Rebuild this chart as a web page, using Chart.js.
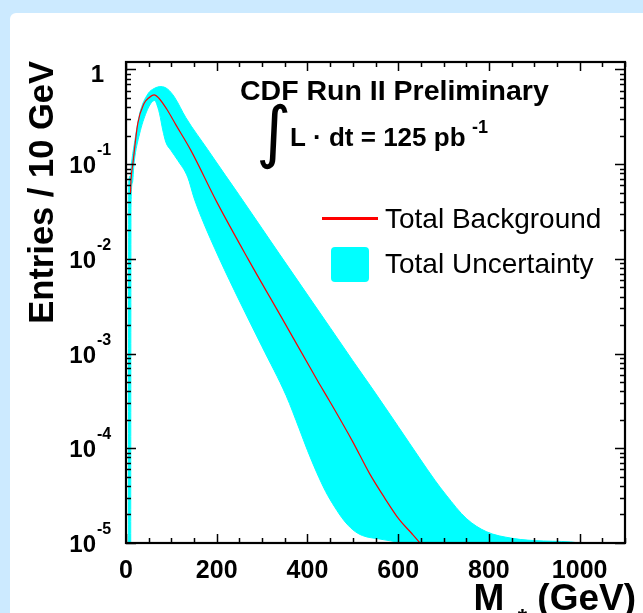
<!DOCTYPE html>
<html>
<head>
<meta charset="utf-8">
<title>Total background</title>
<script src="https://cdn.jsdelivr.net/npm/chart.js@4.4.1/dist/chart.umd.min.js"></script>
<style>
  html, body { margin: 0; padding: 0; }
  body { width: 643px; height: 613px; background: #cceaff; position: relative; overflow: hidden; }
  .panel { position: absolute; left: 10px; top: 13px; width: 700px; height: 700px; background: #fff; border-radius: 6px; }
  canvas { position: absolute; left: 0; top: 0; }
</style>
</head>
<body>
<div class="panel"></div>
<canvas id="bgChart" width="643" height="613"></canvas>
<script>
// Total background prediction (entries / 10 GeV) vs M_e*
const bgMass    = [10, 11, 15, 26, 40, 50, 62, 72, 90, 110, 143, 200, 268, 350, 422, 448, 500, 537, 570, 603, 630, 648, 680];
const bgEntries = [0.050, 0.068, 0.10, 0.27, 0.44, 0.50, 0.54, 0.50, 0.38, 0.26, 0.14, 0.040, 0.0102, 0.0021,
                   5.2e-4, 3.2e-4, 1.17e-4, 5.4e-5, 3.0e-5, 1.75e-5, 1.26e-5, 1.0e-5, 6.3e-6];

// upper edge of the total uncertainty band
const upMass    = [5, 6, 10, 12, 18, 30, 48, 62, 77, 92, 107, 132, 180, 220, 250, 300, 338, 408, 450, 500,
                   544, 600, 647, 681, 706, 750, 794, 852, 920, 1000, 1040, 1100];
const upEntries = [1e-7, 0.063, 0.076, 0.10, 0.16, 0.34, 0.55, 0.63, 0.66, 0.62, 0.51, 0.31, 0.143, 0.0753,
                   0.0468, 0.0209, 0.0113, 0.00368, 0.00188, 8.4e-4, 4.2e-4, 1.7e-4, 7.9e-5, 4.6e-5, 3.2e-5,
                   1.82e-5, 1.32e-5, 1.12e-5, 1.05e-5, 1.0e-5, 8e-6, 6e-6];

// lower edge of the total uncertainty band
const lowMass    = [5, 10, 11, 14, 18, 30, 45, 55, 63, 70, 74, 81, 88, 99, 114, 136, 150, 166, 206, 250, 300,
                    353, 382, 400, 420, 440, 460, 480, 500, 521, 560, 600, 650, 700, 800, 1100];
const lowEntries = [1e-7, 1e-7, 0.035, 0.063, 0.105, 0.21, 0.355, 0.44, 0.47, 0.40, 0.34, 0.23, 0.17, 0.14,
                    0.11, 0.073, 0.044, 0.0275, 0.010, 0.0036, 0.00118, 3.6e-4, 1.6e-4, 9.5e-5, 5.6e-5,
                    3.5e-5, 2.4e-5, 1.74e-5, 1.38e-5, 1.2e-5, 1.1e-5, 1.02e-5, 9.3e-6, 8e-6, 6e-6, 5e-6];

const xTickLabels = [0, 200, 400, 600, 800, 1000];
const yDecades = [0, -1, -2, -3, -4, -5];

const toPoints = (xs, ys) => xs.map((v, i) => ({ x: v, y: ys[i] }));

const BOLD = '"Liberation Sans", Arial, Helvetica, sans-serif';

// ROOT-like frame: inward ticks, superscript labels, titles, text and legend
const rootFrame = {
  id: 'rootFrame',
  afterDraw(chart) {
    const { ctx, chartArea: a, scales: { x, y } } = chart;
    ctx.save();

    ctx.strokeStyle = '#000';
    ctx.lineWidth = 2.2;
    ctx.strokeRect(a.left, a.top, a.right - a.left, a.bottom - a.top);

    ctx.lineWidth = 1.5;
    ctx.beginPath();
    for (let v = 0; v <= x.max; v += 50) {
      const px = Math.round(x.getPixelForValue(v)) + 0.5;
      const len = v % 200 === 0 ? 9 : 5;
      ctx.moveTo(px, a.bottom); ctx.lineTo(px, a.bottom - len);
      ctx.moveTo(px, a.top); ctx.lineTo(px, a.top + len);
    }
    yDecades.forEach(e => {
      for (let m = 1; m <= 9; m++) {
        const v = m * Math.pow(10, e);
        if (v > y.max) break;
        const py = Math.round(y.getPixelForValue(v)) + 0.5;
        const len = m === 1 ? 10 : 5;
        ctx.moveTo(a.left, py); ctx.lineTo(a.left + len, py);
        ctx.moveTo(a.right, py); ctx.lineTo(a.right - len, py);
      }
    });
    ctx.stroke();

    ctx.fillStyle = '#000';
    // x tick labels
    ctx.font = 'bold 25px ' + BOLD;
    ctx.textAlign = 'center';
    ctx.textBaseline = 'alphabetic';
    xTickLabels.forEach(v => ctx.fillText(String(v), x.getPixelForValue(v), 578));

    // y tick labels, 10 with a superscript exponent
    yDecades.forEach(e => {
      const py = y.getPixelForValue(Math.pow(10, e));
      ctx.textAlign = 'right';
      ctx.font = 'bold 24px ' + BOLD;
      if (e === 0) {
        ctx.fillText('1', 104, py + 13);
        return;
      }
      ctx.fillText('10', 96, py + 9);
      ctx.textAlign = 'left';
      ctx.font = 'bold 16px ' + BOLD;
      ctx.fillText(String(e), 97, py - 9);
    });

    // y title
    ctx.save();
    ctx.translate(53, a.top - 1);
    ctx.rotate(-Math.PI / 2);
    ctx.textAlign = 'right';
    ctx.font = 'bold 34.5px ' + BOLD;
    ctx.fillText('Entries / 10 GeV', 0, 0);
    ctx.restore();

    // x title: M with subscript e*, then (GeV)
    ctx.textAlign = 'left';
    ctx.font = 'bold 37px ' + BOLD;
    const unit = ' (GeV)';
    const wUnit = ctx.measureText(unit).width;
    const wM = ctx.measureText('M').width;
    ctx.font = 'bold 24px ' + BOLD;
    const wSub = ctx.measureText('e*').width;
    const xEnd = 636;
    const xM = xEnd - wUnit - wSub - wM;
    ctx.fillText('e*', xM + wM, 626);
    ctx.font = 'bold 37px ' + BOLD;
    ctx.fillText('M', xM, 610);
    ctx.fillText(unit, xM + wM + wSub, 610);

    // header text
    ctx.font = 'bold 28.5px ' + BOLD;
    ctx.fillText('CDF Run II Preliminary', 240, 100);
    ctx.font = '68px "DejaVu Sans", sans-serif';
    ctx.fillText('\u222B', 256, 155);
    ctx.font = 'bold 26px ' + BOLD;
    ctx.fillText('L \u00B7 dt = 125 pb', 290, 146);
    ctx.font = 'bold 18px ' + BOLD;
    ctx.fillText('-1', 472, 133);

    // legend
    const bg = chart.data.datasets[0];
    const band = chart.data.datasets[1];
    ctx.strokeStyle = bg.borderColor;
    ctx.lineWidth = 3;
    ctx.beginPath();
    ctx.moveTo(322, 218.5); ctx.lineTo(378, 218.5);
    ctx.stroke();
    ctx.fillStyle = band.backgroundColor;
    ctx.beginPath();
    ctx.roundRect(331, 247, 38, 35, 4);
    ctx.fill();
    ctx.fillStyle = '#000';
    ctx.font = '28px ' + BOLD;
    ctx.fillText(bg.label, 385, 228);
    ctx.fillText(band.label, 385, 273);

    ctx.restore();
  }
};

new Chart(document.getElementById('bgChart').getContext('2d'), {
  type: 'line',
  data: {
    datasets: [
      {
        label: 'Total Background',
        data: toPoints(bgMass, bgEntries),
        borderColor: '#ff0000',
        borderWidth: 1.2,
        pointRadius: 0,
        fill: false,
        cubicInterpolationMode: 'monotone',
        order: 0
      },
      {
        label: 'Total Uncertainty',
        data: toPoints(upMass, upEntries),
        borderColor: '#00ffff',
        backgroundColor: '#00ffff',
        borderWidth: 1,
        pointRadius: 0,
        fill: 2,
        cubicInterpolationMode: 'monotone',
        order: 1
      },
      {
        label: 'band low',
        data: toPoints(lowMass, lowEntries),
        borderColor: '#00ffff',
        borderWidth: 1,
        pointRadius: 0,
        fill: false,
        cubicInterpolationMode: 'monotone',
        order: 2
      }
    ]
  },
  options: {
    responsive: false,
    animation: false,
    devicePixelRatio: 1,
    layout: { padding: { left: 126, top: 62, right: 18, bottom: 70 } },
    plugins: {
      legend: { display: false },
      tooltip: { enabled: false }
    },
    scales: {
      x: { type: 'linear', min: 0, max: 1100, display: false },
      y: { type: 'logarithmic', min: 1e-5, max: 1.2, display: false }
    }
  },
  plugins: [rootFrame]
});
</script>
</body>
</html>
